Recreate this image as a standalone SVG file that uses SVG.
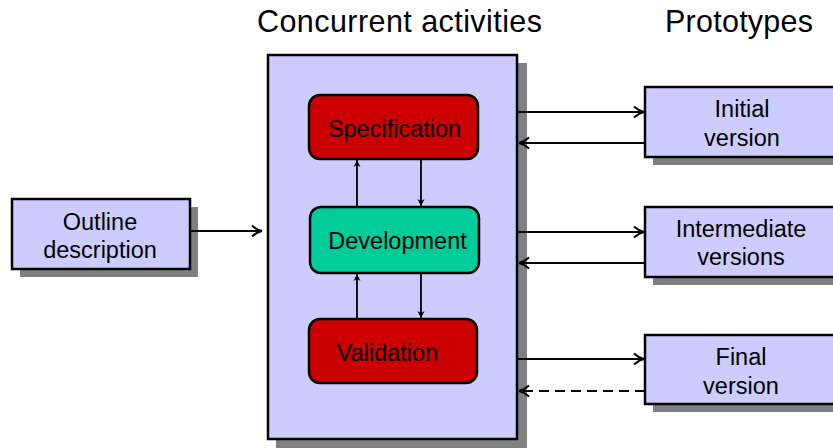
<svg xmlns="http://www.w3.org/2000/svg" width="833" height="448" viewBox="0 0 833 448">
<defs>
<style>
.title{font-family:"Liberation Sans",Arial,sans-serif;font-size:30.5px;fill:#000}
.lbl{font-family:"Liberation Sans",Arial,sans-serif;font-size:23.5px;fill:#000;text-anchor:middle}
.box{fill:#ccccff;stroke:#000;stroke-width:2.5}
.shadow{fill:#808080}
.red{fill:#cc0000;stroke:#000;stroke-width:2.5}
.green{fill:#00cc99;stroke:#000;stroke-width:2.5}
.conn{stroke:#000;stroke-width:2;fill:none}
.thin{stroke:#000;stroke-width:1.8;fill:none}
.dash{stroke-dasharray:10 6}
</style>
<marker id="big" markerWidth="14" markerHeight="14" refX="0" refY="0" viewBox="-12 -7 14 14" orient="auto" markerUnits="userSpaceOnUse">
<path d="M-10,-5.5 Q-5,-1 0,0 Q-5,1 -10,5.5" fill="none" stroke="#000" stroke-width="2"/>
</marker>
<marker id="small" markerWidth="10" markerHeight="10" refX="0" refY="0" viewBox="-8 -5 10 10" orient="auto" markerUnits="userSpaceOnUse">
<path d="M-7,-3.5 L0,0 L-7,3.5 L-5,0 Z" fill="#000"/>
</marker>
</defs>
<rect width="833" height="448" fill="#fff"/>
<text class="title" x="257" y="32" textLength="285" lengthAdjust="spacing">Concurrent activities</text>
<text class="title" x="665" y="32" textLength="148" lengthAdjust="spacing">Prototypes</text>

<g id="concurrent">
<rect class="shadow" x="276" y="63" width="251" height="390"/>
<rect class="box" x="268" y="55" width="249" height="384"/>
</g>
<g id="outline">
<rect class="shadow" x="20" y="207" width="178" height="70"/>
<rect class="box" x="12" y="199" width="178" height="70"/>
<text class="lbl" x="100" y="230">Outline</text>
<text class="lbl" x="100" y="258">description</text>
</g>
<g id="specification">
<rect class="red" x="309" y="95" width="169" height="64" rx="11"/>
<text class="lbl" x="394.5" y="137">Specification</text>
</g>
<g id="development">
<rect class="green" x="310" y="207" width="169" height="66" rx="11"/>
<text class="lbl" x="397.5" y="249">Development</text>
</g>
<g id="validation">
<rect class="red" x="309" y="319" width="168" height="64" rx="11"/>
<text class="lbl" x="387.5" y="361">Validation</text>
</g>
<g id="initial">
<rect class="shadow" x="653" y="95" width="200" height="70"/>
<rect class="box" x="645" y="87" width="200" height="70"/>
<text class="lbl" x="742" y="117">Initial</text>
<text class="lbl" x="742" y="146">version</text>
</g>
<g id="intermediate">
<rect class="shadow" x="653" y="215" width="200" height="70"/>
<rect class="box" x="645" y="207" width="200" height="70"/>
<text class="lbl" x="741" y="237">Intermediate</text>
<text class="lbl" x="741" y="265">versions</text>
</g>
<g id="final">
<rect class="shadow" x="653" y="343" width="200" height="69"/>
<rect class="box" x="645" y="335" width="200" height="69"/>
<text class="lbl" x="741" y="365">Final</text>
<text class="lbl" x="741" y="394">version</text>
</g>

<g id="connectors">
<path class="conn" d="M190,231 L262,231" marker-end="url(#big)"/>
<path class="thin" d="M357,207 L357,160" marker-end="url(#small)"/>
<path class="thin" d="M421,159 L421,206" marker-end="url(#small)"/>
<path class="thin" d="M357,319 L357,274" marker-end="url(#small)"/>
<path class="thin" d="M421,273 L421,318" marker-end="url(#small)"/>
<path class="conn" d="M518,112 L644,112" marker-end="url(#big)"/>
<path class="conn" d="M645,143 L519,143" marker-end="url(#big)"/>
<path class="conn" d="M518,232 L644,232" marker-end="url(#big)"/>
<path class="conn" d="M645,263 L519,263" marker-end="url(#big)"/>
<path class="conn" d="M518,359 L644,359" marker-end="url(#big)"/>
<path class="conn dash" d="M645,391 L519,391" marker-end="url(#big)"/>
</g>
</svg>
